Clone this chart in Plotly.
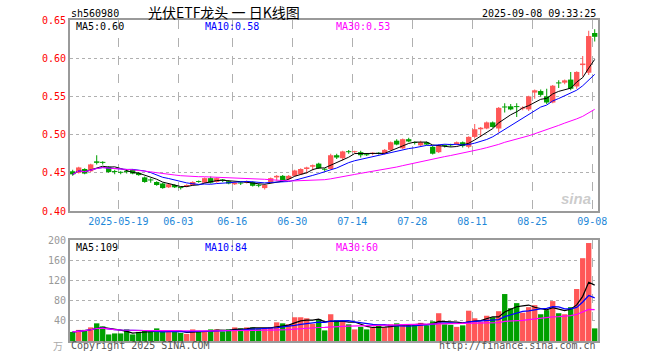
import plotly.graph_objects as go
import pandas as pd

# ---------------- data ----------------
holidays = ["2025-06-02"]
dates = [d.strftime("%Y-%m-%d") for d in pd.bdate_range("2025-05-07", "2025-09-08")
         if d.strftime("%Y-%m-%d") not in holidays]

opens = [0.452, 0.450, 0.455, 0.452, 0.465, 0.464, 0.458, 0.452, 0.451, 0.452,
         0.454, 0.450, 0.444, 0.441, 0.438, 0.436, 0.431, 0.434, 0.4305, 0.432,
         0.434, 0.439, 0.437, 0.443, 0.438, 0.4405, 0.439, 0.435, 0.437, 0.437,
         0.438, 0.434, 0.430, 0.438, 0.444, 0.446, 0.442, 0.446, 0.448, 0.455,
         0.458, 0.462, 0.4545, 0.455, 0.473, 0.469, 0.478, 0.477, 0.477, 0.474,
         0.475, 0.476, 0.475, 0.480, 0.492, 0.482, 0.494, 0.4895, 0.486, 0.490,
         0.484, 0.477, 0.4855, 0.4865, 0.4875, 0.490, 0.484, 0.497, 0.507, 0.508,
         0.516, 0.508, 0.536, 0.537, 0.537, 0.534, 0.533, 0.555, 0.557, 0.550,
         0.542, 0.5675, 0.568, 0.572, 0.563, 0.591, 0.581, 0.633]
highs = [0.454, 0.458, 0.456, 0.462, 0.473, 0.465, 0.459, 0.454, 0.452, 0.455,
         0.455, 0.451, 0.445, 0.443, 0.439, 0.437, 0.436, 0.435, 0.431, 0.435,
         0.439, 0.440, 0.444, 0.445, 0.444, 0.442, 0.440, 0.438, 0.438, 0.440,
         0.439, 0.436, 0.435, 0.444, 0.447, 0.447, 0.447, 0.454, 0.456, 0.458,
         0.461, 0.463, 0.456, 0.475, 0.475, 0.479, 0.480, 0.479, 0.479, 0.476,
         0.477, 0.477, 0.481, 0.491, 0.494, 0.495, 0.496, 0.491, 0.492, 0.491,
         0.485, 0.487, 0.487, 0.488, 0.491, 0.491, 0.498, 0.514, 0.510, 0.517,
         0.517, 0.536, 0.541, 0.540, 0.541, 0.537, 0.551, 0.559, 0.559, 0.560,
         0.565, 0.571, 0.572, 0.582, 0.583, 0.603, 0.636, 0.638]
lows = [0.446, 0.449, 0.448, 0.451, 0.461, 0.461, 0.450, 0.448, 0.448, 0.449,
        0.448, 0.446, 0.437, 0.437, 0.433, 0.429, 0.430, 0.430, 0.428, 0.431,
        0.433, 0.437, 0.436, 0.436, 0.437, 0.438, 0.435, 0.434, 0.434, 0.436,
        0.432, 0.431, 0.428, 0.437, 0.440, 0.438, 0.440, 0.445, 0.447, 0.449,
        0.453, 0.455, 0.452, 0.454, 0.468, 0.466, 0.475, 0.476, 0.470, 0.472,
        0.473, 0.474, 0.474, 0.479, 0.486, 0.481, 0.490, 0.487, 0.485, 0.486,
        0.474, 0.476, 0.483, 0.484, 0.486, 0.483, 0.482, 0.495, 0.497, 0.507,
        0.509, 0.503, 0.529, 0.532, 0.523, 0.532, 0.531, 0.547, 0.550, 0.540,
        0.541, 0.561, 0.566, 0.558, 0.560, 0.576, 0.578, 0.622]
closes = [0.448, 0.457, 0.449, 0.461, 0.463, 0.463, 0.451, 0.451, 0.450, 0.451,
          0.449, 0.447, 0.438, 0.440, 0.434, 0.430, 0.435, 0.431, 0.430, 0.434,
          0.438, 0.438, 0.443, 0.437, 0.443, 0.440, 0.436, 0.437, 0.436, 0.439,
          0.433, 0.433, 0.434, 0.443, 0.446, 0.439, 0.446, 0.453, 0.455, 0.457,
          0.460, 0.456, 0.454, 0.473, 0.470, 0.478, 0.477, 0.478, 0.473, 0.473,
          0.476, 0.475, 0.480, 0.490, 0.487, 0.494, 0.491, 0.489, 0.490, 0.487,
          0.475, 0.486, 0.485, 0.486, 0.490, 0.485, 0.497, 0.507, 0.509, 0.516,
          0.510, 0.535, 0.5355, 0.533, 0.536, 0.535, 0.550, 0.558, 0.552, 0.542,
          0.564, 0.567, 0.571, 0.560, 0.582, 0.593, 0.629, 0.628]
volumes = [18, 22, 22, 27, 35, 29, 13, 15, 15, 23,
           13, 18, 20, 19, 25, 19, 18, 19, 16, 14,
           23, 20, 18, 23, 23, 19, 23, 27, 25, 27,
           27, 25, 25, 27, 37, 35, 33, 47, 47, 45,
           34, 43, 21, 53, 41, 38, 33, 23, 28, 23,
           27, 33, 27, 33, 35, 32, 31, 33, 36, 31,
           39, 55, 33, 32, 28, 31, 60, 45, 38, 50,
           47, 59, 93, 65, 75, 56, 67, 71, 53, 61,
           79, 55, 53, 67, 103, 164, 194, 25]

tick_dates = ["2025-05-19", "2025-06-03", "2025-06-16", "2025-06-30", "2025-07-14",
              "2025-07-28", "2025-08-11", "2025-08-25", "2025-09-08"]
tick_labels = ["2025-05-19", "06-03", "06-16", "06-30", "07-14",
               "07-28", "08-11", "08-25", "09-08"]
price_ticks = [0.40, 0.45, 0.50, 0.55, 0.60, 0.65]
vol_ticks = [40, 80, 120, 160, 200]
price_ma_labels = ["MA5:0.60", "MA10:0.58", "MA30:0.53"]
vol_ma_labels = ["MA5:109", "MA10:84", "MA30:60"]

# ---------------- derived ----------------
RED, GREEN = "#ff5757", "#00a000"
MA_COLORS = ["#000000", "#0000ff", "#ff00ff"]
n = len(dates)
idx = list(range(n))
up = [c >= o for o, c in zip(opens, closes)]
cols = [RED if u else GREEN for u in up]
body_base = [min(o, c) for o, c in zip(opens, closes)]
body_h = [max(abs(c - o), 0.0013) for o, c in zip(opens, closes)]
wick_h = [h - l for h, l in zip(highs, lows)]

cs = pd.Series(closes)
vs = pd.Series(volumes)
pma = [cs.rolling(w, min_periods=1).mean() for w in (5, 10, 30)]
vma = [vs.rolling(w, min_periods=1).mean() for w in (5, 10, 30)]

tickpos = [dates.index(d) - 0.4 for d in tick_dates]

fig = go.Figure()
# wicks
fig.add_trace(go.Bar(x=idx, y=wick_h, base=lows, width=0.17, marker=dict(color=cols, line_width=0),
                     xaxis="x", yaxis="y", hoverinfo="skip"))
# bodies
fig.add_trace(go.Bar(x=idx, y=body_h, base=body_base, width=0.89, marker=dict(color=cols, line_width=0),
                     xaxis="x", yaxis="y"))
for s, c in zip(pma, MA_COLORS):
    fig.add_trace(go.Scatter(x=idx, y=s, mode="lines", line=dict(color=c, width=1),
                             xaxis="x", yaxis="y"))
# volume
fig.add_trace(go.Bar(x=idx, y=volumes, width=0.89, marker=dict(color=cols, line_width=0),
                     xaxis="x2", yaxis="y2"))
for s, c in zip(vma, MA_COLORS):
    fig.add_trace(go.Scatter(x=idx, y=s, mode="lines", line=dict(color=c, width=1.2),
                             xaxis="x2", yaxis="y2"))

L, R, T, B = 70, 598, 20, 341
W, H = 660, 360
def px(x):
    return (x - L) / (R - L)
def py(y):
    return (B - y) / (B - T)

mono = "DejaVu Sans Mono"
FRAME = "#9a9a9a"
GRID = "#b0b0b0"
axis_common = dict(showline=True, mirror=True, linecolor=FRAME, linewidth=2, zeroline=False,
                   ticks="", fixedrange=True)

fig.update_layout(
    width=W, height=H,
    margin=dict(l=L, r=W - R, t=T, b=H - B, autoexpand=False),
    paper_bgcolor="white", plot_bgcolor="white", showlegend=False, barmode="overlay",
    xaxis=dict(domain=[0, 1], anchor="y", range=[-0.45, n - 0.45], tickmode="array",
               tickvals=tickpos, ticktext=tick_labels, showgrid=True, gridcolor=GRID,
               griddash="dash", gridwidth=1, tickfont=dict(family=mono, size=10, color="#1e88d8"),
               **axis_common),
    yaxis=dict(domain=[py(211), 1], range=[0.40, 0.65], tickmode="array", tickvals=price_ticks,
               ticktext=[f"{v:.2f}" for v in price_ticks], showgrid=True, gridcolor=GRID,
               griddash="dot", tickfont=dict(family=mono, size=10, color="#ff0000"), **axis_common),
    xaxis2=dict(domain=[0, 1], anchor="y2", matches="x", range=[-0.45, n - 0.45], tickmode="array",
                tickvals=tickpos, showticklabels=False, showgrid=True, gridcolor=GRID,
                griddash="dash", **axis_common),
    yaxis2=dict(domain=[0, py(240)], range=[0, 200], tickmode="array", tickvals=vol_ticks,
                ticktext=[str(v) for v in vol_ticks], showgrid=True, gridcolor=GRID,
                griddash="dot", tickfont=dict(family=mono, size=10, color="#999999"), **axis_common),
)

def ann(text, x, y, color="#000", size=10, xanchor="left", family=mono, **kw):
    fig.add_annotation(text=text, x=px(x), y=py(y), xref="paper", yref="paper", showarrow=False,
                       xanchor=xanchor, yanchor="middle", font=dict(family=family, size=size, color=color), **kw)

ann("sh560980", 69, 13)
ann("光伏ETF龙头 一 日K线图", 224, 12, size=14, xanchor="center", family="Noto Sans CJK SC")
ann("2025-09-08 09:33:25", 598, 13, xanchor="right")
for t, x, c in zip(price_ma_labels, [74, 203, 334], MA_COLORS):
    ann(t, x, 26, color=c)
for t, x, c in zip(vol_ma_labels, [74, 203, 334], MA_COLORS):
    ann(t, x, 247, color=c)
ann("万", 58, 346, color="#aaaaaa", size=10, xanchor="center", family="Noto Sans CJK SC")
ann("Copyright 2025 SINA.COM", 69, 346, color="#555555")
ann("http://finance.sina.com.cn", 598, 346, color="#555555", xanchor="right")
ann("<b><i>sina</i></b>", 576, 199, color="rgba(160,160,160,0.55)", size=15, xanchor="center",
    family="Liberation Sans")

# remove the page's default body margin so the figure sits at the window origin
fig.write_html("out.html", config={"displayModeBar": False, "staticPlot": True},
               post_script="document.body.style.margin='0px';document.body.style.overflow='hidden';")
